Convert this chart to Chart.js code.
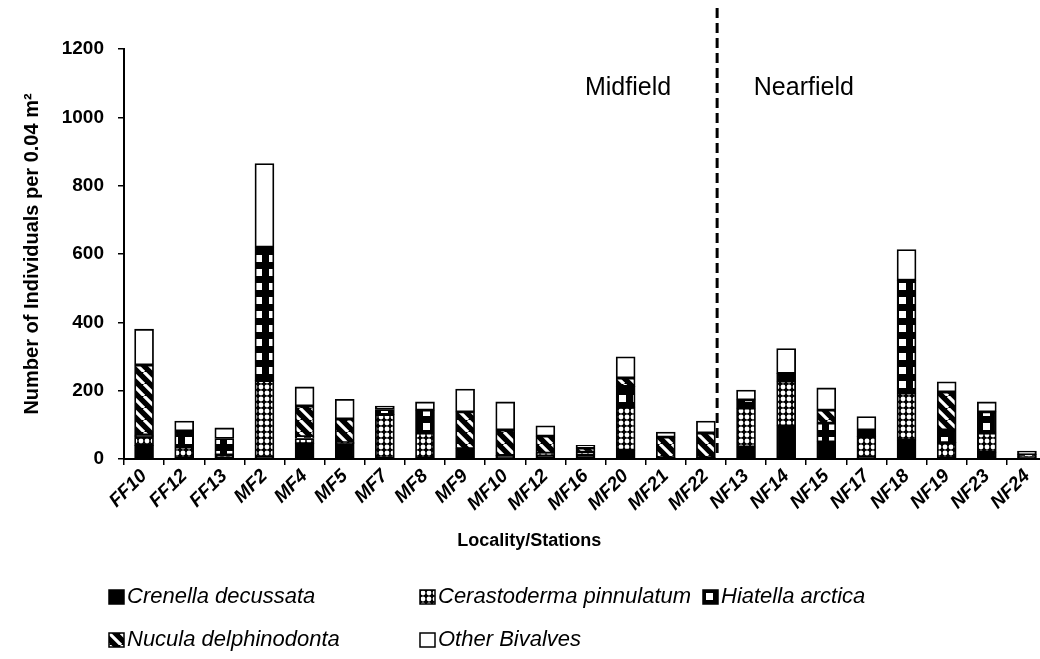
<!DOCTYPE html>
<html><head><meta charset="utf-8">
<script src="https://cdn.jsdelivr.net/npm/chart.js@4/dist/chart.umd.min.js"></script>
<style>html,body{margin:0;padding:0;background:#fff;overflow:hidden;width:1040px;height:659px}canvas{display:block}</style>
</head><body>
<canvas id="c" width="1050" height="659"></canvas>
<script>
const stations = ['FF10','FF12','FF13','MF2','MF4','MF5','MF7','MF8','MF9','MF10','MF12','MF16','MF20','MF21','MF22','NF13','NF14','NF15','NF17','NF18','NF19','NF23','NF24'];
const crenella     = [40, 3, 2,   5, 45, 45,   2,  3,  30, 10, 12, 12,  26,  4,  4,  35, 97, 50,  5,  55,   3, 20, 5];
const cerastoderma = [25,32,10, 225, 15,  3, 128, 73,   0,  0,  5,  8, 126,  0,  0, 114,131,  0, 61, 138,  45, 56, 3];
const hiatella     = [ 5,47,48, 390,  5,  0,  15, 67,   0,  0,  0,  0,  60,  0,  0,  24, 22, 55, 19, 330,  37, 62, 5];
const nucula       = [205,0, 0,   0, 90, 69,   0,  0, 108, 75, 50, 12,  25, 60, 72,   0,  0, 38,  0,   0, 111,  0, 0];
const others       = [105,29,31, 245, 56, 58,  10, 24,  67, 82, 30,  8,  62, 15, 35,  29, 73, 65, 39,  90,  30, 29,10];
const seriesNames  = ['Crenella decussata','Cerastoderma pinnulatum','Hiatella arctica','Nucula delphinodonta','Other Bivalves'];
const yTicks = [0,200,400,600,800,1000,1200];
const regionNames = ['Midfield','Nearfield'];

const FONT = '"Liberation Sans", Arial, sans-serif';
const canvas = document.getElementById('c');
const ctx = canvas.getContext('2d');

function tile(w,h,draw){
  const t=document.createElement('canvas'); t.width=w; t.height=h;
  const g=t.getContext('2d'); draw(g,w,h);
  return ctx.createPattern(t,'repeat');
}
const patSolid = '#000';
const patDots = tile(6,6,(g,w,h)=>{g.fillStyle='#000';g.fillRect(0,0,w,h);g.fillStyle='#fff';g.beginPath();g.arc(3,3,2.4,0,Math.PI*2);g.fill();});
const patCheck = tile(14,14,(g,w,h)=>{g.fillStyle='#000';g.fillRect(0,0,w,h);g.fillStyle='#fff';g.fillRect(3,3,7,7);});
const patHatch = tile(12,12,(g,w,h)=>{g.fillStyle='#000';g.fillRect(0,0,w,h);g.strokeStyle='#fff';g.lineWidth=3.2;
  g.beginPath();for(let k=-1;k<=1;k++){g.moveTo(k*w,0);g.lineTo(k*w+w,h);}g.stroke();});
const fills = [patSolid, patDots, patCheck, patHatch, '#fff'];
const values = [crenella, cerastoderma, hiatella, nucula, others];

const datasets = seriesNames.map((n,i)=>({
  label:n, data:values[i], backgroundColor:fills[i], borderColor:'#000', borderWidth:1.8,
  borderSkipped:false, barThickness:19, stack:'s'
}));

const regionPlugin = {
  id:'regions',
  afterDatasetsDraw(chart){
    const {ctx:c, scales:{x,y}} = chart;
    const step = x.getPixelForValue(1)-x.getPixelForValue(0);
    const dx = x.getPixelForValue(14)+0.28*step;
    c.save();
    c.strokeStyle='#000'; c.lineWidth=3; c.setLineDash([10,5]);
    c.beginPath(); c.moveTo(dx,y.getPixelForValue(1320)); c.lineTo(dx,y.getPixelForValue(0)); c.stroke();
    c.setLineDash([]);
    c.fillStyle='#000'; c.font='25px '+FONT; c.textAlign='center'; c.textBaseline='middle';
    c.fillText(regionNames[0], x.getPixelForValue(12)+0.06*step, y.getPixelForValue(1086));
    c.fillText(regionNames[1], x.getPixelForValue(16)+0.44*step, y.getPixelForValue(1086));
    // x axis title
    c.font='bold 18px '+FONT;
    c.fillText('Locality/Stations', x.getPixelForValue(9)+0.6*step, 541);
    // legend
    const cols=[109,420,703], rows=[597,640];
    chart.data.datasets.forEach((ds,i)=>{
      const bx=cols[i%3], by=rows[Math.floor(i/3)];
      c.save(); c.translate(bx,by-7);
      c.fillStyle=ds.backgroundColor; c.fillRect(0,0,15,14);
      c.strokeStyle='#000'; c.lineWidth=1.5; c.strokeRect(0,0,15,14);
      c.restore();
      c.font='italic 22px '+FONT; c.textAlign='left'; c.fillStyle='#000';
      c.fillText(ds.label, bx+18, by);
    });
    c.restore();
  }
};

Chart.defaults.font.family = FONT;
Chart.defaults.color = '#000';
new Chart(ctx,{
  type:'bar',
  data:{labels:stations, datasets},
  options:{
    responsive:false, animation:false,
    layout:{padding:{left:8,top:49,right:3,bottom:107}},
    plugins:{legend:{display:false},tooltip:{enabled:false}},
    scales:{
      x:{stacked:true,
        grid:{drawOnChartArea:false,drawTicks:true,tickLength:6,color:'#000',lineWidth:1.5,offset:true},
        border:{color:'#000',width:2},
        ticks:{font:{size:19,style:'italic',weight:'bold'},maxRotation:45,minRotation:45,autoSkip:false,padding:0},
        afterFit(s){s.height=552-459;}
      },
      y:{stacked:true,min:0,max:1200,
        afterBuildTicks(s){s.ticks=yTicks.map(v=>({value:v}));},
        ticks:{font:{size:19,weight:'bold'},padding:14,callback:v=>String(v)},
        grid:{drawOnChartArea:false,tickLength:6,color:'#000',lineWidth:1.5},
        border:{color:'#000',width:2},
        title:{display:true,text:'Number of Individuals per 0.04 m²',font:{size:20,weight:'bold'},padding:12},
        afterFit(s){s.width=124-8;}
      }
    }
  },
  plugins:[regionPlugin]
});
</script>
</body></html>
